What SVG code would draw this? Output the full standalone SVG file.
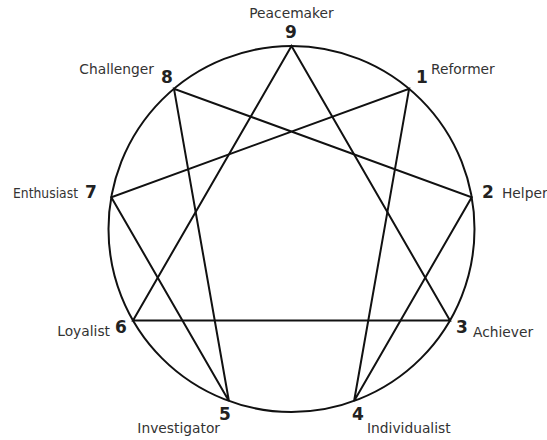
<svg xmlns="http://www.w3.org/2000/svg" width="547" height="440" viewBox="0 0 547 440">
<style>
.ln{fill:none;stroke:#111;stroke-width:2;stroke-linejoin:miter}
.lbl{font-family:"DejaVu Sans","Liberation Sans",sans-serif;font-size:13.8px;fill:#333}
.num{font-family:"DejaVu Sans","Liberation Sans",sans-serif;font-size:17px;font-weight:bold;fill:#222;text-anchor:middle}
</style>
<rect width="547" height="440" fill="#fff"/>
<g id="connectors">
<circle class="ln" cx="291.5" cy="229" r="183"/>
<polygon class="ln" points="291.5,46 450,320.5 133,320.5"/>
<polygon class="ln" points="409.1,88.8 354.1,401 471.7,197.2 174,88.8 228.9,401 111.3,197.2"/>
</g>
<g id="n9"><text class="lbl" x="291.5" y="18" text-anchor="middle">Peacemaker</text><text class="num" x="291" y="38">9</text></g>
<g id="n8"><text class="lbl" x="154" y="74" text-anchor="end">Challenger</text><text class="num" x="167" y="83">8</text></g>
<g id="n1"><text class="num" x="422" y="83">1</text><text class="lbl" x="431" y="74">Reformer</text></g>
<g id="n7"><text class="lbl" x="13" y="198" textLength="65" lengthAdjust="spacingAndGlyphs">Enthusiast</text><text class="num" x="91" y="198">7</text></g>
<g id="n2"><text class="num" x="488" y="198">2</text><text class="lbl" x="502" y="198">Helper</text></g>
<g id="n6"><text class="lbl" x="110" y="336" text-anchor="end">Loyalist</text><text class="num" x="121" y="333">6</text></g>
<g id="n3"><text class="num" x="462" y="333">3</text><text class="lbl" x="473" y="337">Achiever</text></g>
<g id="n5"><text class="num" x="225" y="420">5</text><text class="lbl" x="220" y="433" text-anchor="end">Investigator</text></g>
<g id="n4"><text class="num" x="358" y="420">4</text><text class="lbl" x="367" y="433">Individualist</text></g>
</svg>
